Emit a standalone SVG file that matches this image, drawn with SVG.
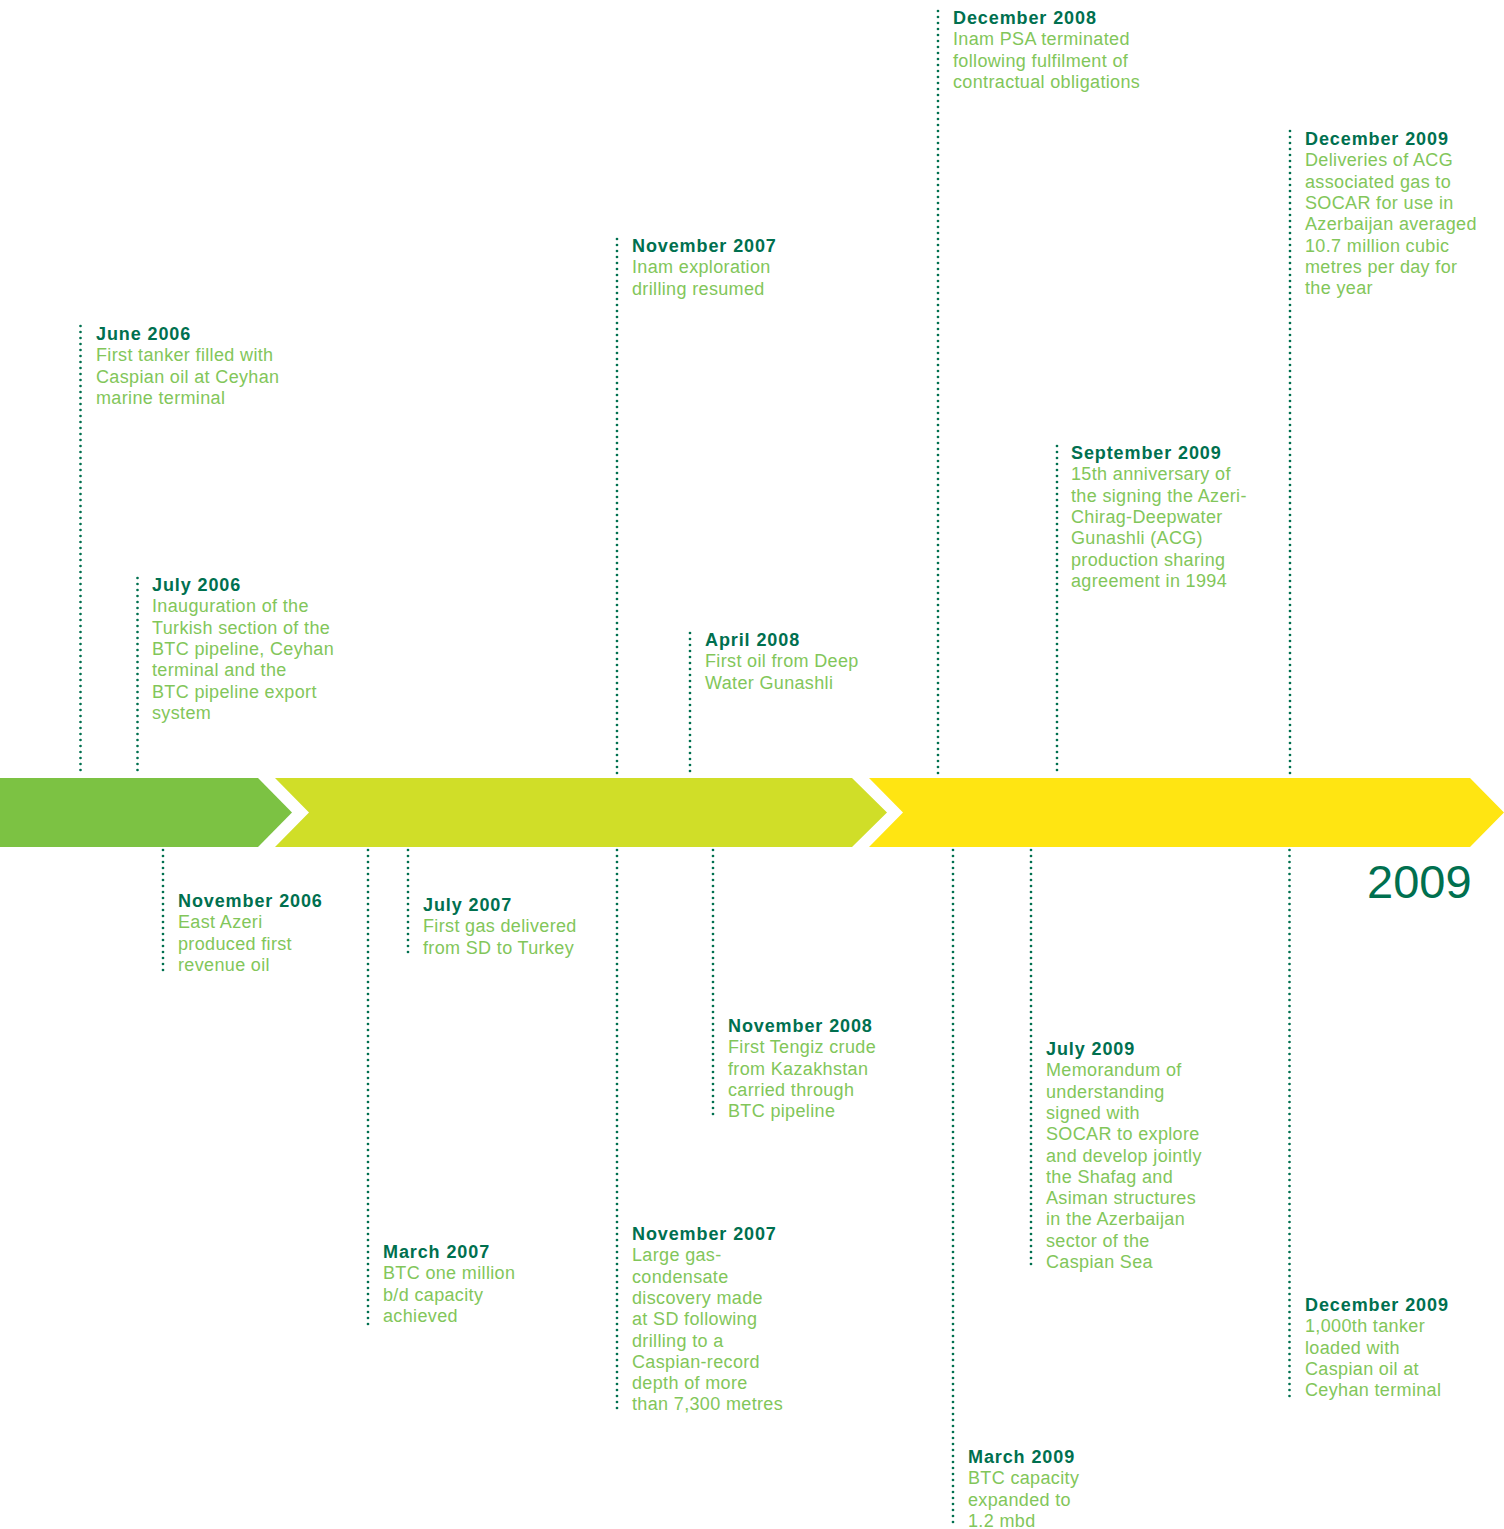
<svg xmlns="http://www.w3.org/2000/svg" width="1504" height="1529" viewBox="0 0 1504 1529">
  <style>
    .lead { stroke: #00704F; stroke-width: 2.7; stroke-linecap: round; stroke-dasharray: 0 6; fill: none; }
    .ev text { font-family: "Liberation Sans", Arial, sans-serif; font-size: 18px; }
    .date { font-weight: bold; fill: #00704F; letter-spacing: 0.9px; }
    .body { fill: #82C65A; letter-spacing: 0.35px; }
    .year { font-family: "Liberation Sans", Arial, sans-serif; font-size: 47px; fill: #00704F; }
  </style>

  <!-- timeline band: three chevron segments -->
  <g id="band">
    <path id="seg-2006" d="M0,778 H258 L292,812.5 L258,847 H0 Z" fill="#7CC243"/>
    <path id="seg-2007-08" d="M275,778 H852 L887,812.5 L852,847 H275 L309,812.5 Z" fill="#D0DE28"/>
    <path id="seg-2009" d="M869,778 H1470 L1504,812.5 L1470,847 H869 L903,812.5 Z" fill="#FFE512"/>
  </g>

  <text id="year-label" class="year" x="1367" y="898">2009</text>

  <!-- dotted leader lines from each event to the band -->
  <g id="connectors">
    <line class="lead" x1="80.5" y1="326" x2="80.5" y2="776"/>
    <line class="lead" x1="137.5" y1="578" x2="137.5" y2="776"/>
    <line class="lead" x1="617" y1="239" x2="617" y2="776"/>
    <line class="lead" x1="690" y1="633" x2="690" y2="776"/>
    <line class="lead" x1="938" y1="11" x2="938" y2="776"/>
    <line class="lead" x1="1057" y1="446" x2="1057" y2="776"/>
    <line class="lead" x1="1290" y1="131" x2="1290" y2="776"/>

    <line class="lead" x1="163" y1="850" x2="163" y2="975"/>
    <line class="lead" x1="368" y1="850" x2="368" y2="1326"/>
    <line class="lead" x1="408" y1="850" x2="408" y2="955"/>
    <line class="lead" x1="617" y1="850" x2="617" y2="1412"/>
    <line class="lead" x1="713" y1="850" x2="713" y2="1118"/>
    <line class="lead" x1="953" y1="850" x2="953" y2="1528"/>
    <line class="lead" x1="1031" y1="850" x2="1031" y2="1270"/>
    <line class="lead" x1="1289.5" y1="850" x2="1289.5" y2="1398"/>
  </g>

  <g id="events" transform="translate(0,1)">
  <!-- events above the band -->
  <g id="ev-jun-2006" class="ev">
    <text class="date" x="96" y="339">June 2006</text>
    <text class="body" x="96" y="360.3">First tanker filled with<tspan x="96" dy="21.3">Caspian oil at Ceyhan</tspan><tspan x="96" dy="21.3">marine terminal</tspan></text>
  </g>
  <g id="ev-jul-2006" class="ev">
    <text class="date" x="152" y="590">July 2006</text>
    <text class="body" x="152" y="611.3">Inauguration of the<tspan x="152" dy="21.3">Turkish section of the</tspan><tspan x="152" dy="21.3">BTC pipeline, Ceyhan</tspan><tspan x="152" dy="21.3">terminal and the</tspan><tspan x="152" dy="21.3">BTC pipeline export</tspan><tspan x="152" dy="21.3">system</tspan></text>
  </g>
  <g id="ev-nov-2007-a" class="ev">
    <text class="date" x="632" y="251">November 2007</text>
    <text class="body" x="632" y="272.3">Inam exploration<tspan x="632" dy="21.3">drilling resumed</tspan></text>
  </g>
  <g id="ev-apr-2008" class="ev">
    <text class="date" x="705" y="645">April 2008</text>
    <text class="body" x="705" y="666.3">First oil from Deep<tspan x="705" dy="21.3">Water Gunashli</tspan></text>
  </g>
  <g id="ev-dec-2008" class="ev">
    <text class="date" x="953" y="23">December 2008</text>
    <text class="body" x="953" y="44.3">Inam PSA terminated<tspan x="953" dy="21.3">following fulfilment of</tspan><tspan x="953" dy="21.3">contractual obligations</tspan></text>
  </g>
  <g id="ev-sep-2009" class="ev">
    <text class="date" x="1071" y="458">September 2009</text>
    <text class="body" x="1071" y="479.3">15th anniversary of<tspan x="1071" dy="21.3">the signing the Azeri-</tspan><tspan x="1071" dy="21.3">Chirag-Deepwater</tspan><tspan x="1071" dy="21.3">Gunashli (ACG)</tspan><tspan x="1071" dy="21.3">production sharing</tspan><tspan x="1071" dy="21.3">agreement in 1994</tspan></text>
  </g>
  <g id="ev-dec-2009-a" class="ev">
    <text class="date" x="1305" y="144">December 2009</text>
    <text class="body" x="1305" y="165.3">Deliveries of ACG<tspan x="1305" dy="21.3">associated gas to</tspan><tspan x="1305" dy="21.3">SOCAR for use in</tspan><tspan x="1305" dy="21.3">Azerbaijan averaged</tspan><tspan x="1305" dy="21.3">10.7 million cubic</tspan><tspan x="1305" dy="21.3">metres per day for</tspan><tspan x="1305" dy="21.3">the year</tspan></text>
  </g>

  <!-- events below the band -->
  <g id="ev-nov-2006" class="ev">
    <text class="date" x="178" y="906">November 2006</text>
    <text class="body" x="178" y="927.3">East Azeri<tspan x="178" dy="21.3">produced first</tspan><tspan x="178" dy="21.3">revenue oil</tspan></text>
  </g>
  <g id="ev-mar-2007" class="ev">
    <text class="date" x="383" y="1257">March 2007</text>
    <text class="body" x="383" y="1278.3">BTC one million<tspan x="383" dy="21.3">b/d capacity</tspan><tspan x="383" dy="21.3">achieved</tspan></text>
  </g>
  <g id="ev-jul-2007" class="ev">
    <text class="date" x="423" y="910">July 2007</text>
    <text class="body" x="423" y="931.3">First gas delivered<tspan x="423" dy="21.3">from SD to Turkey</tspan></text>
  </g>
  <g id="ev-nov-2007-b" class="ev">
    <text class="date" x="632" y="1239">November 2007</text>
    <text class="body" x="632" y="1260.3">Large gas-<tspan x="632" dy="21.3">condensate</tspan><tspan x="632" dy="21.3">discovery made</tspan><tspan x="632" dy="21.3">at SD following</tspan><tspan x="632" dy="21.3">drilling to a</tspan><tspan x="632" dy="21.3">Caspian-record</tspan><tspan x="632" dy="21.3">depth of more</tspan><tspan x="632" dy="21.3">than 7,300 metres</tspan></text>
  </g>
  <g id="ev-nov-2008" class="ev">
    <text class="date" x="728" y="1031">November 2008</text>
    <text class="body" x="728" y="1052.3">First Tengiz crude<tspan x="728" dy="21.3">from Kazakhstan</tspan><tspan x="728" dy="21.3">carried through</tspan><tspan x="728" dy="21.3">BTC pipeline</tspan></text>
  </g>
  <g id="ev-mar-2009" class="ev">
    <text class="date" x="968" y="1462">March 2009</text>
    <text class="body" x="968" y="1483.3">BTC capacity<tspan x="968" dy="21.3">expanded to</tspan><tspan x="968" dy="21.3">1.2 mbd</tspan></text>
  </g>
  <g id="ev-jul-2009" class="ev">
    <text class="date" x="1046" y="1054">July 2009</text>
    <text class="body" x="1046" y="1075.3">Memorandum of<tspan x="1046" dy="21.3">understanding</tspan><tspan x="1046" dy="21.3">signed with</tspan><tspan x="1046" dy="21.3">SOCAR to explore</tspan><tspan x="1046" dy="21.3">and develop jointly</tspan><tspan x="1046" dy="21.3">the Shafag and</tspan><tspan x="1046" dy="21.3">Asiman structures</tspan><tspan x="1046" dy="21.3">in the Azerbaijan</tspan><tspan x="1046" dy="21.3">sector of the</tspan><tspan x="1046" dy="21.3">Caspian Sea</tspan></text>
  </g>
  <g id="ev-dec-2009-b" class="ev">
    <text class="date" x="1305" y="1310">December 2009</text>
    <text class="body" x="1305" y="1331.3">1,000th tanker<tspan x="1305" dy="21.3">loaded with</tspan><tspan x="1305" dy="21.3">Caspian oil at</tspan><tspan x="1305" dy="21.3">Ceyhan terminal</tspan></text>
  </g>
  </g>
</svg>
